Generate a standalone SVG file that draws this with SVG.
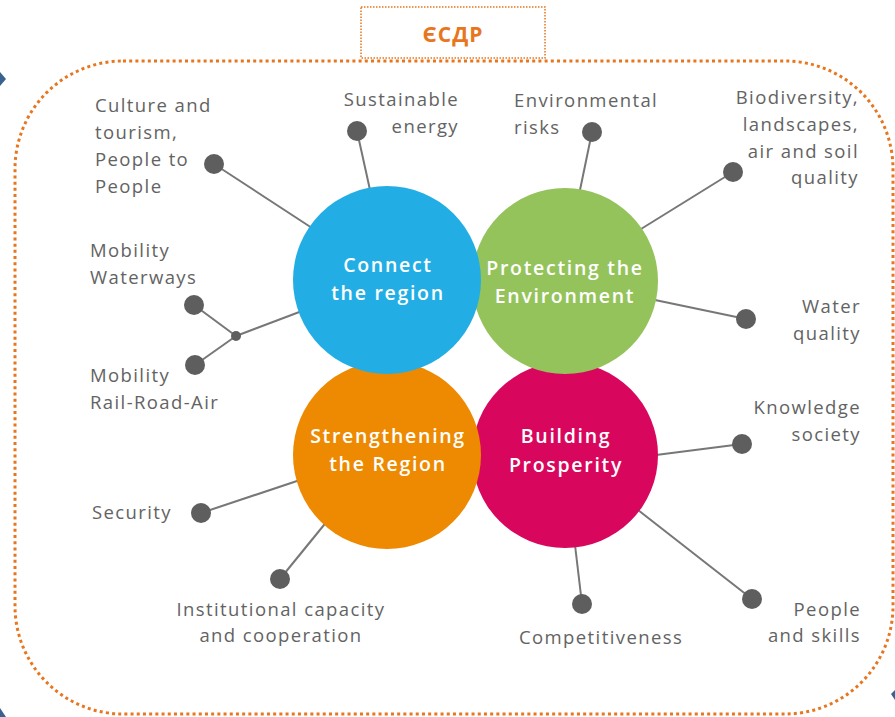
<svg xmlns="http://www.w3.org/2000/svg" width="895" height="717" viewBox="0 0 895 717">
<style>
.lbl{font-family:"Open Sans","DejaVu Sans",sans-serif;font-size:18.5px;letter-spacing:1.4px;fill:#636363}
.r{text-anchor:end}
.m{text-anchor:middle}
.ct{font-family:"Open Sans","DejaVu Sans",sans-serif;font-size:19.5px;font-weight:600;letter-spacing:1.7px;fill:#ffffff;text-anchor:middle}
.dot{fill:#5e5e5e}
.ln{stroke:#777777;stroke-width:2;fill:none}
.frame{fill:none;stroke:#e8761e;stroke-width:3;stroke-dasharray:3 3.2}
</style>
<rect width="895" height="717" fill="#ffffff"/>
<g id="bg-marks" fill="#3a6290">
<polygon points="0,72 6,79 0,86"/>
<polygon points="0,708 6,717 0,717"/>
<polygon points="891,694 895,690 895,700"/>
</g>
<rect id="frame" class="frame" x="15" y="61" width="878" height="653" rx="108" ry="108"/>
<g id="title">
<rect x="361" y="7" width="184" height="51" fill="#ffffff" stroke="#e8761e" stroke-width="1.5" stroke-dasharray="1.5 1.5"/>
<text x="453" y="42" font-family="'Open Sans','DejaVu Sans',sans-serif" font-size="21" font-weight="700" letter-spacing="1" fill="#e8761e" text-anchor="middle">ЄСДР</text>
</g>
<g id="connectors">
<line class="ln" x1="214" y1="164" x2="312" y2="228"/>
<line class="ln" x1="357" y1="131" x2="370" y2="190"/>
<line class="ln" x1="592" y1="132" x2="580" y2="190"/>
<line class="ln" x1="733" y1="172" x2="641" y2="229"/>
<line class="ln" x1="746" y1="319" x2="655" y2="300"/>
<line class="ln" x1="194" y1="305" x2="236" y2="336"/>
<line class="ln" x1="195" y1="365" x2="236" y2="336"/>
<line class="ln" x1="236" y1="336" x2="302" y2="311"/>
<line class="ln" x1="742" y1="444" x2="656" y2="455"/>
<line class="ln" x1="201" y1="513" x2="300" y2="480"/>
<line class="ln" x1="280" y1="579" x2="328" y2="520"/>
<line class="ln" x1="582" y1="604" x2="575" y2="545"/>
<line class="ln" x1="752" y1="599" x2="638" y2="510"/>
</g>
<g id="hubs">
<g id="building"><circle cx="565" cy="455" r="93" fill="#d8075d"/></g>
<g id="strengthening"><circle cx="387" cy="455" r="94" fill="#ee8902"/></g>
<g id="protecting"><circle cx="565" cy="281" r="93" fill="#94c35b"/></g>
<g id="connect"><circle cx="387" cy="280" r="94" fill="#22aee5"/></g>
<text class="ct" x="388" y="272">Connect</text>
<text class="ct" x="388" y="300">the region</text>
<text class="ct" x="565" y="275">Protecting the</text>
<text class="ct" x="565" y="303">Environment</text>
<text class="ct" x="388" y="443">Strengthening</text>
<text class="ct" x="388" y="471">the Region</text>
<text class="ct" x="566" y="443">Building</text>
<text class="ct" x="566" y="472">Prosperity</text>
</g>
<g id="n-culture"><circle class="dot" cx="214" cy="164" r="10"/>
<text class="lbl" x="95" y="112">Culture and</text><text class="lbl" x="95" y="139">tourism,</text><text class="lbl" x="95" y="166">People to</text><text class="lbl" x="95" y="193">People</text></g>
<g id="n-energy"><circle class="dot" cx="357" cy="131" r="10"/>
<text class="lbl r" x="459" y="106">Sustainable</text><text class="lbl r" x="459" y="133">energy</text></g>
<g id="n-risks"><circle class="dot" cx="592" cy="132" r="10"/>
<text class="lbl" x="514" y="107">Environmental</text><text class="lbl" x="514" y="134">risks</text></g>
<g id="n-biodiversity"><circle class="dot" cx="733" cy="172" r="10"/>
<text class="lbl r" x="859" y="104">Biodiversity,</text><text class="lbl r" x="859" y="131">landscapes,</text><text class="lbl r" x="859" y="158">air and soil</text><text class="lbl r" x="859" y="184">quality</text></g>
<g id="n-water"><circle class="dot" cx="746" cy="319" r="10"/>
<text class="lbl r" x="861" y="313">Water</text><text class="lbl r" x="861" y="340">quality</text></g>
<g id="n-waterways"><circle class="dot" cx="194" cy="305" r="10"/>
<text class="lbl" x="90" y="257">Mobility</text><text class="lbl" x="90" y="284">Waterways</text></g>
<g id="n-rail"><circle class="dot" cx="195" cy="365" r="10"/>
<text class="lbl" x="90" y="382">Mobility</text><text class="lbl" x="90" y="409">Rail-Road-Air</text></g>
<g id="n-junction"><circle class="dot" cx="236" cy="336" r="5"/></g>
<g id="n-knowledge"><circle class="dot" cx="742" cy="444" r="10"/>
<text class="lbl r" x="861" y="414">Knowledge</text><text class="lbl r" x="861" y="441">society</text></g>
<g id="n-security"><circle class="dot" cx="201" cy="513" r="10"/>
<text class="lbl" x="92" y="519">Security</text></g>
<g id="n-institutional"><circle class="dot" cx="280" cy="579" r="10"/>
<text class="lbl m" x="281" y="616">Institutional capacity</text><text class="lbl m" x="281" y="642">and cooperation</text></g>
<g id="n-competitiveness"><circle class="dot" cx="582" cy="604" r="10"/>
<text class="lbl" x="519" y="644">Competitiveness</text></g>
<g id="n-people"><circle class="dot" cx="752" cy="599" r="10"/>
<text class="lbl r" x="861" y="616">People</text><text class="lbl r" x="861" y="642">and skills</text></g>
</svg>
